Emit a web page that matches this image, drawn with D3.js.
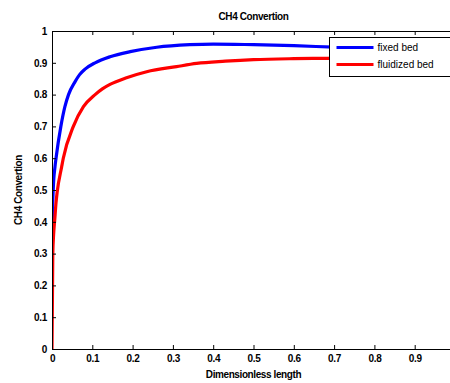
<!DOCTYPE html>
<html lang="en">
<head>
<meta charset="UTF-8">
<script src="https://cdn.jsdelivr.net/npm/d3@7/dist/d3.min.js"></script>
<title>CH4 Convertion</title>
<style>
    body, html{
        margin: 0;
        padding: 0;
        background: #fff;
    }
    #chart{
        width: 450px;
        height: 383px;
    }
    text{
        font-family: "Liberation Sans", Arial, sans-serif;
    }
</style>
</head>
<body>
<div id="chart"></div>
<script>

// data
// fixed bed curve
let fixed_x = [0, 0.001, 0.003, 0.0074, 0.01, 0.022, 0.032, 0.041, 0.057, 0.068, 0.082, 0.107, 0.144, 0.194, 0.26, 0.342, 0.4, 0.5, 0.6, 0.7, 0.8, 0.9, 1.0]
let fixed_y = [0.30, 0.42, 0.50, 0.573, 0.60, 0.70, 0.762, 0.80, 0.84, 0.862, 0.88, 0.90, 0.919, 0.935, 0.949, 0.957, 0.959, 0.957, 0.954, 0.949, 0.945, 0.941, 0.937]
// fluidized bed curve
let fluid_x = [0, 0.001, 0.002, 0.004, 0.007, 0.01, 0.013, 0.024, 0.028, 0.053, 0.078, 0.107, 0.125, 0.144, 0.185, 0.235, 0.309, 0.359, 0.43, 0.5, 0.6, 0.68, 0.8, 0.9, 1.0]
let fluid_y = [0, 0.15, 0.3, 0.36, 0.41, 0.46, 0.495, 0.573, 0.60, 0.70, 0.762, 0.80, 0.818, 0.832, 0.853, 0.872, 0.888, 0.898, 0.905, 0.91, 0.913, 0.914, 0.915, 0.916, 0.916]

let series_names = ["fixed bed", "fluidized bed"]
let series_colors = ["#0000ff", "#ff0000"]

// ticks (x = 1 falls just outside the window)
let x_ticks = [0, 0.1, 0.2, 0.3, 0.4, 0.5, 0.6, 0.7, 0.8, 0.9]
let x_tick_labels = ["0", "0.1", "0.2", "0.3", "0.4", "0.5", "0.6", "0.7", "0.8", "0.9"]
let y_ticks = [0, 0.1, 0.2, 0.3, 0.4, 0.5, 0.6, 0.7, 0.8, 0.9, 1.0]
let y_tick_labels = ["0", "0.1", "0.2", "0.3", "0.4", "0.5", "0.6", "0.7", "0.8", "0.9", "1"]

let title = "CH4 Convertion"
let x_title = "Dimensionless length"
let y_title = "CH4 Convertion"

// layout
const W = 450, H = 383
const m_left = 52, m_right = 455, m_top = 31, m_bottom = 349

let svg = d3.select("#chart").append("svg").attr("width", W).attr("height", H)

let x = d3.scaleLinear().domain([0, 1]).range([m_left, m_right])
let y = d3.scaleLinear().domain([0, 1]).range([m_bottom, m_top])

// clip for curves
svg.append("clipPath").attr("id", "plot-clip").append("rect")
    .attr("x", m_left).attr("y", m_top).attr("width", m_right - m_left).attr("height", m_bottom - m_top)

// curves
let series = [
    fixed_x.map((d, i) => [d, fixed_y[i]]),
    fluid_x.map((d, i) => [d, fluid_y[i]])
]
let line = d3.line().x(d => x(d[0])).y(d => y(d[1])).curve(d3.curveMonotoneX)

svg.append("g").attr("clip-path", "url(#plot-clip)")
    .selectAll("path").data(series).enter().append("path")
    .attr("d", d => line(d))
    .attr("fill", "none")
    .attr("stroke", (d, i) => series_colors[i])
    .attr("stroke-width", 3.2)
    .attr("stroke-linejoin", "round")

// axes, ticks point inward
const fmt_x = d => x_tick_labels[x_ticks.indexOf(d)]
const fmt_y = d => y_tick_labels[y_ticks.indexOf(d)]

let gx = svg.append("g").attr("transform", `translate(0,${m_bottom})`)
    .call(d3.axisBottom(x).tickValues(x_ticks).tickFormat(fmt_x).tickSizeInner(-4).tickSizeOuter(0).tickPadding(6))
let gy = svg.append("g").attr("transform", `translate(${m_left},0)`)
    .call(d3.axisLeft(y).tickValues(y_ticks).tickFormat(fmt_y).tickSizeInner(-4).tickSizeOuter(0).tickPadding(5))
let gt = svg.append("g").attr("transform", `translate(0,${m_top})`)
    .call(d3.axisTop(x).tickValues(x_ticks).tickFormat("").tickSizeInner(-4).tickSizeOuter(0))

;[gx, gy, gt].forEach(g => {
    g.select(".domain").remove()
    g.selectAll("line").attr("stroke", "#000")
    g.selectAll("text").attr("fill", "#000").attr("font-size", 10).attr("font-weight", "bold")
        .attr("font-family", "Liberation Sans, Arial, sans-serif").attr("letter-spacing", "-0.3px")
})
gt.selectAll("text").remove()

// box
svg.append("rect").attr("x", m_left + 0.5).attr("y", m_top + 0.5)
    .attr("width", m_right - m_left).attr("height", m_bottom - m_top)
    .attr("fill", "none").attr("stroke", "#000").attr("stroke-width", 1)

// titles
svg.append("text").attr("x", (m_left + m_right) / 2).attr("y", 20).attr("text-anchor", "middle")
    .attr("font-size", 10).attr("font-weight", "bold").attr("letter-spacing", "-0.4px").text(title)
svg.append("text").attr("x", (m_left + m_right) / 2).attr("y", 378).attr("text-anchor", "middle")
    .attr("font-size", 10).attr("font-weight", "bold").attr("letter-spacing", "-0.4px").text(x_title)
svg.append("text").attr("transform", `translate(22,${(m_top + m_bottom) / 2}) rotate(-90)`).attr("text-anchor", "middle")
    .attr("font-size", 10).attr("font-weight", "bold").attr("letter-spacing", "-0.4px").text(y_title)

// legend
let lg = svg.append("g").attr("transform", "translate(329.5,37.5)")
lg.append("rect").attr("width", 125).attr("height", 39).attr("fill", "#fff").attr("stroke", "#000")
series_names.forEach((name, i) => {
    let ly = 10 + i * 17
    lg.append("line").attr("x1", 7).attr("x2", 44).attr("y1", ly).attr("y2", ly)
        .attr("stroke", series_colors[i]).attr("stroke-width", 3.2)
    lg.append("text").attr("x", 48).attr("y", ly + 3.5).attr("font-size", 10).attr("fill", "#000").text(name)
})

</script>
</body>
</html>
